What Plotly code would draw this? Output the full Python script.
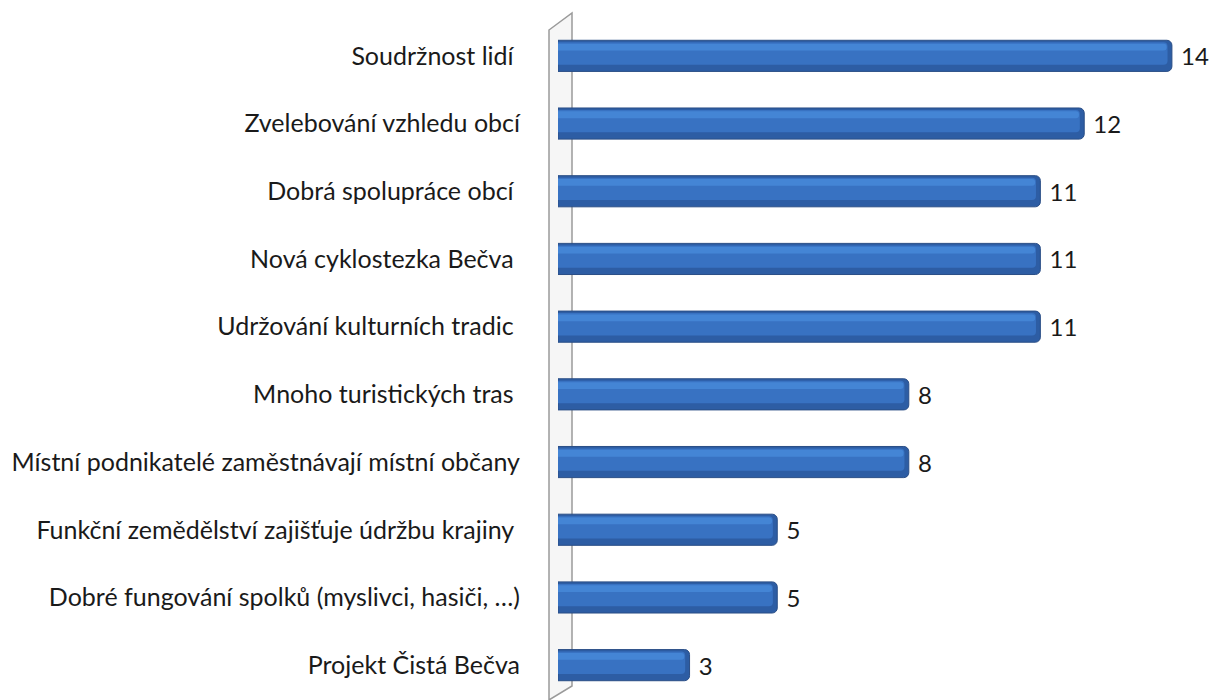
import plotly.graph_objects as go

categories = [
    "Soudržnost lidí ",
    "Zvelebování vzhledu obcí",
    "Dobrá spolupráce obcí ",
    "Nová cyklostezka Bečva ",
    "Udržování kulturních tradic ",
    "Mnoho turistických tras ",
    "Místní podnikatelé zaměstnávají místní občany",
    "Funkční zemědělství zajišťuje údržbu krajiny ",
    "Dobré fungování spolků (myslivci, hasiči, …)",
    "Projekt Čistá Bečva",
]
values = [14, 12, 11, 11, 11, 8, 8, 5, 5, 3]

W, H = 1227, 700
ML, MR, MT, MB = 558, 20, 22, 1
XMAX = 14.8


def xp(px):
    # pixel column -> paper x
    return (px - ML) / (W - ML - MR)


def yp(px):
    # pixel row -> paper y
    return 1 - (px - MT) / (H - MT - MB)


font = "Lato"
fsize = 25

fig = go.Figure()

# dark body of each bar (bottom shade and rounded end)
fig.add_trace(go.Bar(
    y=categories, x=values, orientation="h", width=0.46, offset=-0.23,
    marker=dict(color="#2d5da4", line=dict(color="#2a4e86", width=1), cornerradius=5),
    texttemplate=" %{x}", textposition="outside",
    textfont=dict(family=font, size=fsize - 1, color="#1a1a1a"),
    cliponaxis=False, hoverinfo="skip", showlegend=False,
))
# main face
fig.add_trace(go.Bar(
    y=categories, x=[v - 0.1 for v in values], orientation="h", width=0.33, offset=-0.2,
    marker=dict(color="#3872c2", line=dict(width=0), cornerradius=4),
    hoverinfo="skip", showlegend=False,
))
# upper highlight
fig.add_trace(go.Bar(
    y=categories, x=[v - 0.12 for v in values], orientation="h", width=0.1, offset=-0.18,
    marker=dict(color="#4485d5", line=dict(width=0), cornerradius=3),
    hoverinfo="skip", showlegend=False,
))

# left wall slab
wall = (f"M {xp(549)} {yp(30)} L {xp(572)} {yp(13)} L {xp(572)} {yp(686)} "
        f"L {xp(549)} {yp(700)} Z")
fig.add_shape(type="path", path=wall, xref="paper", yref="paper", layer="below",
              fillcolor="rgba(240,240,240,0.6)", line=dict(color="#9a9a9a", width=1.5))

fig.update_layout(
    width=W, height=H,
    margin=dict(l=ML, r=MR, t=MT, b=MB),
    paper_bgcolor="white", plot_bgcolor="rgba(0,0,0,0)",
    barmode="overlay",
    xaxis=dict(range=[0, XMAX], visible=False, fixedrange=True),
    yaxis=dict(autorange="reversed", showgrid=False, zeroline=False, showline=False,
               ticks="", ticklabelstandoff=37,
               tickfont=dict(family=font, size=fsize, color="#1a1a1a")),
    font=dict(family=font),
)

fig.write_html("out.html")
